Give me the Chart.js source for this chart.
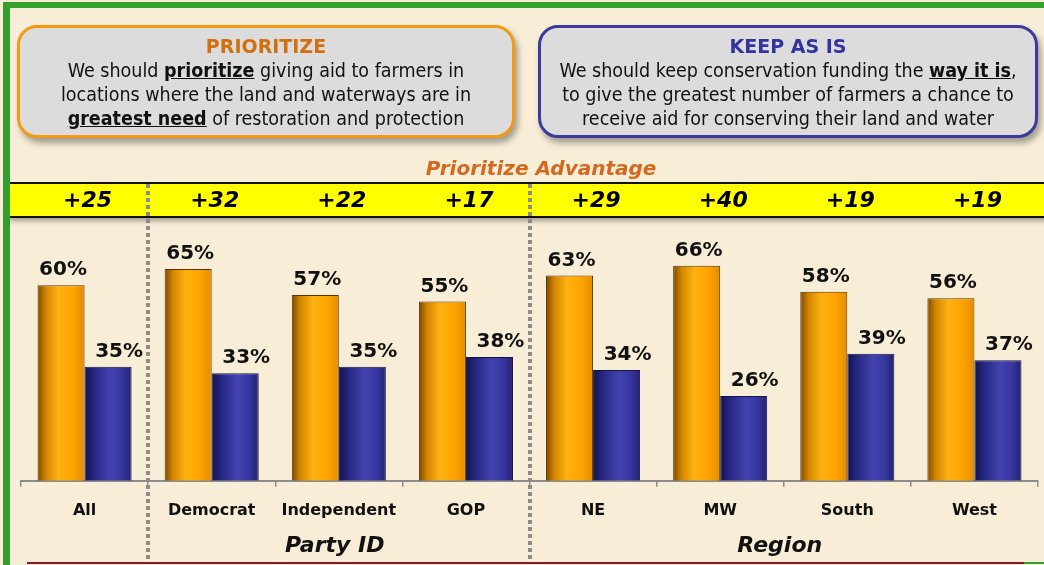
<!DOCTYPE html>
<html>
<head>
<meta charset="utf-8">
<script src="https://cdn.jsdelivr.net/npm/chart.js@4/dist/chart.umd.min.js"></script>
<style>
  html, body { margin: 0; padding: 0; }
  body { width: 1044px; height: 565px; background: #f8eed8; position: relative; overflow: hidden;
         font-family: "DejaVu Sans Condensed", "DejaVu Sans", sans-serif; }
  #c { position: absolute; left: 0; top: 0; z-index: 0; }
  .frame { position: absolute; left: 3px; top: 2px; width: 1050px; height: 570px;
           border-top: 6px solid #33a02c; border-left: 7px solid #33a02c; z-index: 2; }
  .foot { position: absolute; top: 562px; height: 2px; z-index: 2; }
  .box { position: absolute; top: 25px; box-sizing: border-box; height: 113px;
         background: #dcdcdc; border-radius: 20px; text-align: center; z-index: 1;
         box-shadow: 3px 5px 6px rgba(0,0,0,0.35); color: #111; font-size: 19.5px; line-height: 24px;
         padding-top: 6px; }
  .box h2 { margin: 0; font-family: "DejaVu Sans", sans-serif; font-size: 19px; line-height: 25px; font-weight: bold; }
  .box u { font-weight: bold; }
  #boxP { left: 17px; width: 498px; border: 3px solid #f39a14; }
  #boxP h2 { color: #d2700f; }
  #boxK { left: 538px; width: 500px; border: 3px solid #3b3b9c; }
  #boxK h2 { color: #3333a0; }
</style>
</head>
<body>
<div class="frame"></div>
<div class="foot" style="left:27px;width:997px;background:#8b1a1a"></div>
<div class="foot" style="left:1024px;width:20px;background:#33a02c"></div>
<div class="box" id="boxP">
  <h2>PRIORITIZE</h2>
  We should <u>prioritize</u> giving aid to farmers in<br>
  locations where the land and waterways are in<br>
  <u>greatest need</u> of restoration and protection
</div>
<div class="box" id="boxK">
  <h2>KEEP AS IS</h2>
  We should keep conservation funding the <u>way it is</u>,<br>
  to give the greatest number of farmers a chance to<br>
  receive aid for conserving their land and water
</div>
<canvas id="c" width="1044" height="565"></canvas>
<script>
const categories = ['All', 'Democrat', 'Independent', 'GOP', 'NE', 'MW', 'South', 'West'];
const prioritize = [60, 65, 57, 55, 63, 66, 58, 56];
const keepAsIs = [35, 33, 35, 38, 34, 26, 39, 37];
// groups under the axis: [label, first index, last index]
const groups = [['Party ID', 1, 3], ['Region', 4, 7]];
// dotted dividers after these category indexes
const dividers = [0, 3];

const orangeStops = [[0, '#7d4a00'], [0.18, '#d48600'], [0.45, '#ffb210'], [0.75, '#ffa300'], [1, '#e48c00']];
const blueStops = [[0, '#12124a'], [0.2, '#262682'], [0.55, '#4343b0'], [0.8, '#3636a0'], [1, '#23236e']];
const CAT_PCT = 0.74;

function barFill(stops) {
  return function (ctx) {
    const chart = ctx.chart;
    const x = chart.scales && chart.scales.x;
    if (!x || ctx.dataIndex === undefined || !isFinite(x.width) || x.width <= 0) return stops[2][1];
    const c = x.getPixelForValue(ctx.dataIndex);
    const w = (x.width / categories.length) * CAT_PCT / 2;
    const left = ctx.datasetIndex === 0 ? c - w : c;
    const g = chart.ctx.createLinearGradient(left, 0, left + w, 0);
    stops.forEach(s => g.addColorStop(s[0], s[1]));
    return g;
  };
}

const decor = {
  id: 'decor',
  beforeDatasetsDraw(chart) {
    const ctx = chart.ctx, x = chart.scales.x;
    const step = x.width / categories.length;
    // yellow advantage band
    ctx.save();
    ctx.shadowColor = 'rgba(0,0,0,0.35)';
    ctx.shadowOffsetY = 4;
    ctx.shadowBlur = 5;
    ctx.fillStyle = '#ffff00';
    ctx.fillRect(10, 183, 1040, 34);
    ctx.restore();
    ctx.save();
    ctx.strokeStyle = '#111';
    ctx.lineWidth = 2;
    ctx.beginPath();
    ctx.moveTo(10, 183); ctx.lineTo(1044, 183);
    ctx.moveTo(10, 217); ctx.lineTo(1044, 217);
    ctx.stroke();
    ctx.restore();

    // title above band
    ctx.save();
    ctx.fillStyle = '#d2691e';
    ctx.font = 'italic bold 20px "DejaVu Sans"';
    ctx.textAlign = 'center';
    ctx.textBaseline = 'middle';
    ctx.fillText('Prioritize Advantage', 541, 170);

    // advantage numbers
    ctx.fillStyle = '#000';
    ctx.font = 'italic bold 22px "DejaVu Sans"';
    categories.forEach((c, i) => {
      const d = prioritize[i] - keepAsIs[i];
      ctx.fillText('+' + d, x.getPixelForValue(i) + 3, 201);
    });
    ctx.restore();

    // dotted dividers
    ctx.save();
    ctx.fillStyle = '#8c8c8c';
    dividers.forEach(i => {
      const px = Math.round(x.getPixelForValue(i) + step / 2);
      for (let y = 184; y < 560; y += 7) ctx.fillRect(px - 2, y, 4, 4);
    });
    ctx.restore();
  },
  afterDatasetsDraw(chart) {
    const ctx = chart.ctx, x = chart.scales.x;
    ctx.save();
    ctx.fillStyle = '#111';
    ctx.font = 'bold 20px "DejaVu Sans"';
    ctx.textAlign = 'center';
    ctx.textBaseline = 'alphabetic';
    chart.data.datasets.forEach((ds, di) => {
      const shift = di === 0 ? 2 : 11;
      chart.getDatasetMeta(di).data.forEach((bar, i) => {
        ctx.fillText(ds.data[i] + '%', bar.x + shift, bar.y - 10);
      });
    });
    ctx.font = 'italic bold 22px "DejaVu Sans"';
    ctx.textBaseline = 'middle';
    groups.forEach(g => {
      const cx = (x.getPixelForValue(g[1]) + x.getPixelForValue(g[2])) / 2;
      ctx.fillText(g[0], cx - 4, 546);
    });
    ctx.restore();
  }
};

new Chart(document.getElementById('c').getContext('2d'), {
  type: 'bar',
  data: {
    labels: categories,
    datasets: [
      { label: 'Prioritize', data: prioritize, backgroundColor: barFill(orangeStops),
        borderColor: '#5a3400', borderWidth: 1 },
      { label: 'Keep as is', data: keepAsIs, backgroundColor: barFill(blueStops),
        borderColor: '#141440', borderWidth: 1 }
    ]
  },
  options: {
    responsive: false,
    devicePixelRatio: 1,
    animation: false,
    events: [],
    layout: { padding: { left: 21, right: 6, top: 155, bottom: 31 } },
    datasets: { bar: { categoryPercentage: CAT_PCT, barPercentage: 1.0 } },
    plugins: { legend: { display: false }, tooltip: { enabled: false } },
    scales: {
      x: {
        grid: { display: true, drawOnChartArea: false, drawTicks: true, tickLength: 6, color: '#8c8c8c', lineWidth: 1.5 },
        border: { display: true, color: '#8c8c8c', width: 2 },
        ticks: { color: '#111', padding: 14, font: { family: '"DejaVu Sans"', weight: 'bold', size: 16 } }
      },
      y: { display: false, min: 0, max: 100 }
    }
  },
  plugins: [decor]
});
</script>
</body>
</html>
